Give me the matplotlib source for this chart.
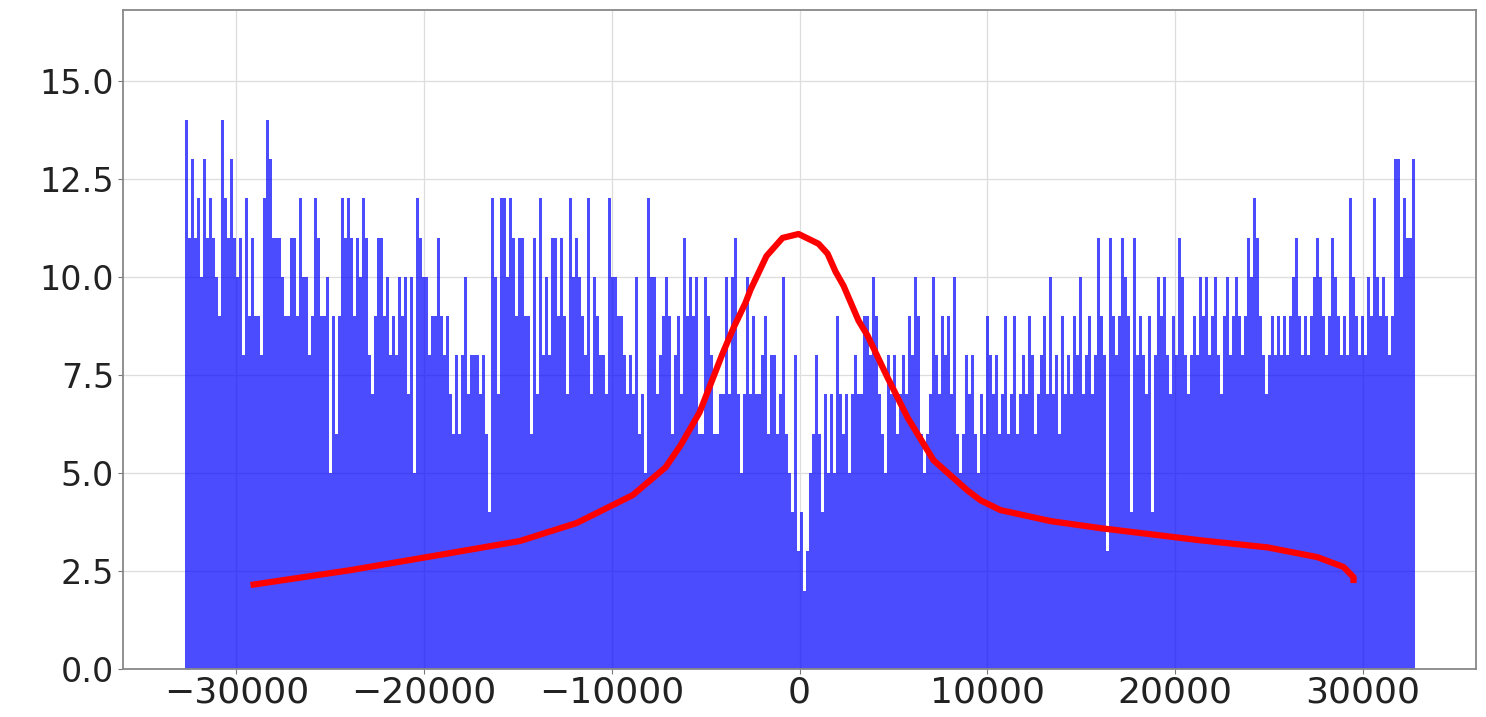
import numpy as np
import matplotlib
matplotlib.use("Agg")
import matplotlib.pyplot as plt

# histogram of 16-bit sample values: count in each of 410 equal bins over [-32768, 32768)
bin_lo = -32768
bin_hi = 32768
counts = [
    14, 11, 13, 11, 12, 10, 13, 11, 12, 11, 10, 9, 14, 12, 11, 13, 11, 10, 11, 8,
    12, 9, 11, 9, 9, 8, 12, 14, 13, 11, 11, 11, 10, 9, 9, 11,
    11, 9, 12, 10, 10, 8, 9, 12, 11, 9, 9, 10, 5, 9, 6, 9, 12, 11, 12, 11,
    9, 11, 10, 12, 11, 8, 7, 9, 11, 11, 9, 10, 8, 9, 8, 10, 9, 10,
    7, 10, 5, 12, 11, 10, 10, 8, 9, 9, 11, 9, 8, 9, 7, 6, 8, 6, 8, 10,
    7, 8, 8, 8, 7, 8, 6, 4, 12, 10, 7, 12, 12, 10, 12, 11, 9, 11,
    11, 9, 9, 6, 11, 7, 12, 8, 10, 8, 11, 11, 9, 11, 9, 7, 12, 10, 11, 10,
    9, 8, 12, 7, 10, 9, 8, 8, 7, 12, 10, 10, 9, 9, 8, 7, 8,
    7, 10, 6, 7, 5, 12, 10, 10, 7, 8, 9, 10, 9, 6, 8, 9, 7, 11, 9, 10,
    9, 10, 6, 6, 10, 9, 8, 6, 6, 7, 7, 10, 7, 10, 11, 7, 5, 7,
    10, 7, 9, 7, 7, 8, 9, 6, 8, 8, 6, 7, 10, 6, 5, 4, 8, 3, 4, 2,
    3, 5, 6, 8, 6, 4, 7, 5, 7, 5, 9, 7, 6, 7, 5, 7, 8, 7,
    7, 9, 9, 8, 10, 9, 7, 6, 5, 8, 7, 8, 6, 7, 8, 7, 9, 8, 10, 9,
    6, 5, 6, 7, 10, 8, 7, 9, 8, 9, 7, 10, 6, 5, 6, 8, 7, 8, 6, 5,
    7, 6, 9, 8, 7, 8, 6,
    7, 9, 6, 7, 9, 6, 7, 8, 7, 9, 8, 6, 7, 8, 9, 7, 10, 7, 8, 6,
    9, 7, 8, 7, 9, 8, 10, 7, 8, 9, 7, 8, 11, 9, 8, 3, 11, 9, 8, 9,
    11, 10, 9, 4, 11, 8, 9, 8, 7, 9, 4,
    8, 10, 9, 10, 8, 7, 9, 8, 11, 10, 8, 7, 8, 9, 8, 10, 9, 10, 8, 9,
    10, 8, 7, 9, 10, 8, 9, 10, 9, 8, 9, 11, 10, 12, 11, 9, 8, 7, 8, 9,
    8, 9, 8, 9, 8, 9, 10, 11, 9, 8, 9, 8, 9, 10, 11, 10, 9, 8, 9, 11,
    10, 9, 8, 9, 8, 12, 10, 9, 8, 9, 8, 10, 9, 12, 10, 9, 10, 9, 8, 9,
    13, 13, 10, 12, 11, 11, 13,
]

# red overlay curve (data units)
curve_x = [-29251, -23923, -20246, -14918, -11881, -8898, -7140, -6340, -5328,
           -4103, -3516, -2877, -2611, -1758, -906, -53, 1012, 1492, 1918,
           2344, 3144, 3623, 4689, 5754, 7140, 8951, 9644, 10709, 13373,
           16037, 21365, 24935, 27599, 28984, 29517, 29517]
curve_y = [2.14, 2.52, 2.82, 3.26, 3.72, 4.43, 5.14, 5.70, 6.54,
           8.04, 8.70, 9.34, 9.67, 10.53, 10.99, 11.09, 10.84, 10.59, 10.13,
           9.77, 8.88, 8.50, 7.43, 6.41, 5.32, 4.55, 4.30, 4.05, 3.77,
           3.59, 3.28, 3.10, 2.85, 2.60, 2.34, 2.19]

xticks = [-30000, -20000, -10000, 0, 10000, 20000, 30000]
yticks = [0.0, 2.5, 5.0, 7.5, 10.0, 12.5, 15.0]

edges = np.linspace(bin_lo, bin_hi, len(counts) + 1)
centers = (edges[:-1] + edges[1:]) / 2

fig = plt.figure(figsize=(14.86, 7.17), dpi=100)
ax = fig.add_axes([0.0828, 0.067, 0.9105, 0.919])

ax.hist(centers, bins=edges, weights=counts, color='blue', alpha=0.7)
ax.plot(curve_x, curve_y, color='red', lw=4.5,
        solid_capstyle='butt', solid_joinstyle='round')

ax.set_xlim(-36045, 36045)
ax.set_ylim(0, 16.8)
ax.set_xticks(xticks)
ax.set_yticks(yticks)
ax.set_yticklabels([f'{v:.1f}' for v in yticks])
ax.tick_params(axis='x', labelsize=26, colors='#777777', labelcolor='#222222',
               length=3.5, pad=1)
ax.tick_params(axis='y', labelsize=24, colors='#777777', labelcolor='#222222',
               length=3.5, pad=3)

ax.set_axisbelow(True)
ax.grid(True, color='#dddddd', linewidth=0.9)
for side in ax.spines.values():
    side.set_color('#888888')
    side.set_linewidth(1.3)

fig.savefig('out.png', dpi=100)
